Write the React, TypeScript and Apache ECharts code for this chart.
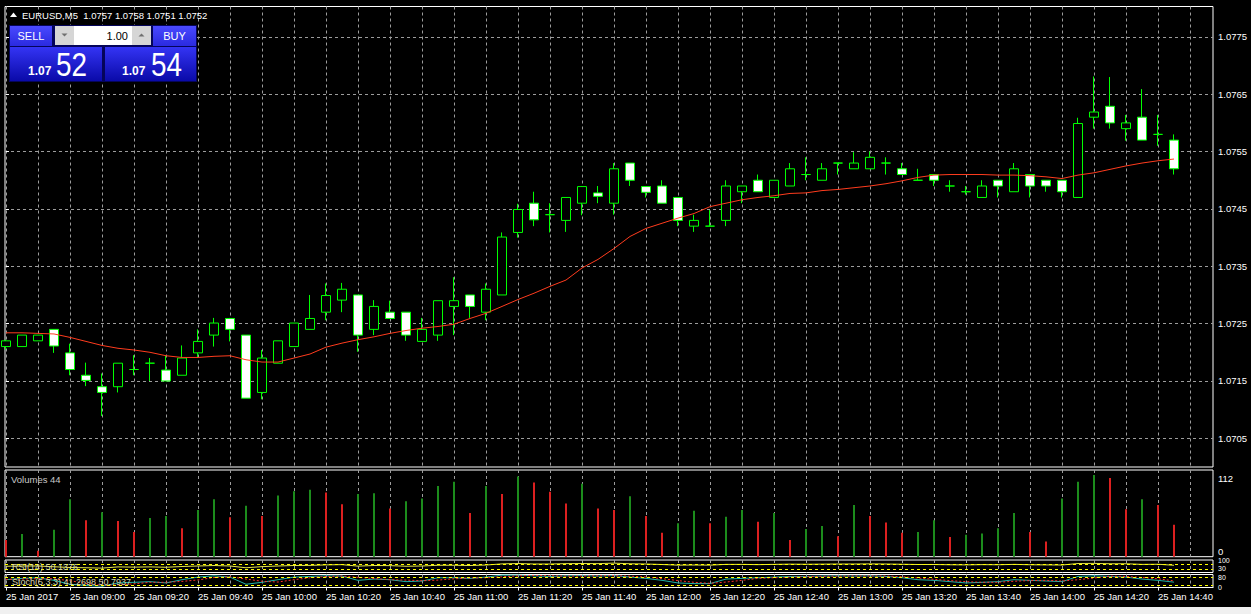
import React, { useEffect, useRef } from 'react';
import * as echarts from 'echarts';

// ---- data (EURUSD, M5, 25 Jan 2017, 08:40 .. 14:45) ----
const OPEN = [
  1.07210, 1.07210, 1.07220, 1.07240, 1.07199, 1.07160, 1.07140, 1.07140, 1.07170, 1.07181,
  1.07169, 1.07160, 1.07199, 1.07230, 1.07259, 1.07230, 1.07130, 1.07181, 1.07210, 1.07240,
  1.07270, 1.07291, 1.07300, 1.07240, 1.07270, 1.07270, 1.07219, 1.07230, 1.07280, 1.07300,
  1.07270, 1.07300, 1.07409, 1.07460, 1.07440, 1.07430, 1.07460, 1.07478, 1.07460, 1.07530,
  1.07489, 1.07490, 1.07470, 1.07420, 1.07420, 1.07430, 1.07480, 1.07500, 1.07470, 1.07490,
  1.07510, 1.07500, 1.07530, 1.07520, 1.07520, 1.07530, 1.07520, 1.07500, 1.07510, 1.07490,
  1.07480, 1.07470, 1.07500, 1.07480, 1.07510, 1.07500, 1.07500, 1.07470, 1.07610, 1.07629,
  1.07590, 1.07610, 1.07580, 1.07570,
];
const CLOSE = [
  1.07220, 1.07230, 1.07230, 1.07211, 1.07170, 1.07151, 1.07130, 1.07181, 1.07170, 1.07181,
  1.07150, 1.07190, 1.07219, 1.07251, 1.07240, 1.07120, 1.07190, 1.07220, 1.07251, 1.07259,
  1.07299, 1.07310, 1.07230, 1.07280, 1.07259, 1.07230, 1.07240, 1.07290, 1.07290, 1.07280,
  1.07310, 1.07401, 1.07449, 1.07431, 1.07440, 1.07470, 1.07489, 1.07472, 1.07520, 1.07500,
  1.07479, 1.07460, 1.07430, 1.07430, 1.07420, 1.07490, 1.07490, 1.07480, 1.07500, 1.07520,
  1.07510, 1.07520, 1.07530, 1.07530, 1.07540, 1.07530, 1.07510, 1.07500, 1.07500, 1.07490,
  1.07480, 1.07490, 1.07490, 1.07520, 1.07490, 1.07490, 1.07480, 1.07599, 1.07619, 1.07600,
  1.07600, 1.07570, 1.07580, 1.07520,
];
const LOW = [
  1.07205, 1.07210, 1.07220, 1.07199, 1.07160, 1.07141, 1.07089, 1.07130, 1.07160, 1.07150,
  1.07150, 1.07160, 1.07190, 1.07210, 1.07219, 1.07120, 1.07118, 1.07181, 1.07210, 1.07240,
  1.07256, 1.07270, 1.07201, 1.07230, 1.07259, 1.07220, 1.07219, 1.07220, 1.07230, 1.07260,
  1.07256, 1.07300, 1.07400, 1.07420, 1.07409, 1.07410, 1.07439, 1.07460, 1.07440, 1.07490,
  1.07470, 1.07460, 1.07420, 1.07410, 1.07420, 1.07420, 1.07460, 1.07480, 1.07470, 1.07490,
  1.07500, 1.07500, 1.07510, 1.07520, 1.07520, 1.07510, 1.07510, 1.07500, 1.07490, 1.07480,
  1.07475, 1.07470, 1.07470, 1.07480, 1.07470, 1.07480, 1.07470, 1.07470, 1.07590, 1.07590,
  1.07569, 1.07570, 1.07560, 1.07510,
];
const HIGH = [
  1.07222, 1.07230, 1.07230, 1.07240, 1.07215, 1.07182, 1.07163, 1.07181, 1.07195, 1.07190,
  1.07195, 1.07212, 1.07240, 1.07260, 1.07260, 1.07230, 1.07204, 1.07220, 1.07251, 1.07300,
  1.07320, 1.07321, 1.07300, 1.07291, 1.07290, 1.07270, 1.07260, 1.07290, 1.07331, 1.07300,
  1.07320, 1.07409, 1.07459, 1.07480, 1.07460, 1.07470, 1.07490, 1.07490, 1.07530, 1.07530,
  1.07490, 1.07500, 1.07470, 1.07440, 1.07448, 1.07500, 1.07490, 1.07510, 1.07500, 1.07530,
  1.07540, 1.07530, 1.07530, 1.07549, 1.07550, 1.07540, 1.07530, 1.07520, 1.07510, 1.07500,
  1.07490, 1.07500, 1.07500, 1.07530, 1.07510, 1.07500, 1.07500, 1.07609, 1.07681, 1.07680,
  1.07614, 1.07659, 1.07614, 1.07580,
];
const MA = [
  1.07234, 1.07234, 1.07233, 1.07232, 1.07226, 1.07219, 1.07212, 1.07207, 1.07204, 1.07200,
  1.07194, 1.07191, 1.07191, 1.07193, 1.07194, 1.07187, 1.07183, 1.07183, 1.07190, 1.07197,
  1.07209, 1.07216, 1.07222, 1.07227, 1.07233, 1.07238, 1.07242, 1.07245, 1.07249, 1.07259,
  1.07268, 1.07280, 1.07292, 1.07303, 1.07315, 1.07326, 1.07347, 1.07362, 1.07381, 1.07402,
  1.07416, 1.07425, 1.07434, 1.07442, 1.07454, 1.07460, 1.07466, 1.07470, 1.07473, 1.07477,
  1.07478, 1.07482, 1.07484, 1.07487, 1.07490, 1.07494, 1.07499, 1.07505, 1.07509, 1.07510,
  1.07510, 1.07510, 1.07509, 1.07509, 1.07508, 1.07506, 1.07503, 1.07509, 1.07513, 1.07519,
  1.07525, 1.07530, 1.07534, 1.07537,
];
const VOLUME = [
  23, 31, 8, 37, 79, 50, 61, 49, 34, 53,
  56, 39, 64, 79, 54, 70, 56, 84, 90, 92,
  88, 72, 86, 87, 66, 76, 80, 97, 103, 60,
  97, 86, 110, 102, 89, 73, 100, 66, 64, 83,
  56, 33, 46, 63, 46, 55, 64, 48, 60, 23,
  38, 42, 28, 71, 56, 47, 33, 34, 50, 27,
  30, 32, 39, 60, 34, 21, 80, 103, 112, 108,
  65, 79, 71, 44,
];
const RSI = [
  50, 52, 52, 46, 40, 38, 35, 45, 43, 45,
  42, 48, 52, 56, 52, 38, 47, 52, 56, 57,
  61, 63, 51, 56, 55, 50, 52, 58, 58, 56,
  60, 69, 72, 68, 68, 71, 72, 71, 75, 70,
  68, 64, 59, 60, 59, 65, 65, 63, 65, 67,
  66, 67, 68, 68, 69, 68, 66, 64, 64, 62,
  61, 63, 62, 65, 62, 61, 60, 72, 73, 70,
  70, 65, 66, 58,
];
const STOCH_MAIN = [
  60, 70, 75, 55, 25, 15, 10, 35, 40, 45,
  35, 60, 80, 90, 80, 25, 40, 60, 80, 85,
  90, 88, 55, 65, 60, 45, 50, 75, 75, 70,
  80, 95, 95, 90, 85, 90, 92, 88, 92, 80,
  70, 55, 35, 30, 30, 65, 70, 75, 80, 85,
  85, 88, 90, 88, 90, 85, 75, 60, 55, 45,
  35, 40, 45, 60, 55, 50, 45, 85, 90, 85,
  80, 65, 55, 41,
];
const STOCH_SIGNAL = [
  62, 65, 68, 67, 52, 32, 17, 20, 28, 40,
  40, 47, 58, 77, 83, 65, 48, 42, 60, 75,
  85, 88, 78, 69, 60, 57, 52, 57, 67, 73,
  75, 82, 90, 93, 90, 88, 89, 90, 91, 87,
  81, 68, 53, 40, 32, 42, 55, 70, 75, 80,
  83, 86, 88, 89, 89, 88, 83, 73, 63, 53,
  45, 40, 40, 48, 53, 55, 50, 60, 73, 87,
  85, 77, 67, 51,
];
const TIME_LABELS = [
  '25 Jan 2017', '25 Jan 09:00', '25 Jan 09:20', '25 Jan 09:40', '25 Jan 10:00',
  '25 Jan 10:20', '25 Jan 10:40', '25 Jan 11:00', '25 Jan 11:20', '25 Jan 11:40',
  '25 Jan 12:00', '25 Jan 12:20', '25 Jan 12:40', '25 Jan 13:00', '25 Jan 13:20',
  '25 Jan 13:40', '25 Jan 14:00', '25 Jan 14:20', '25 Jan 14:40',
];
const PRICE_TICKS = [1.0705, 1.0715, 1.0725, 1.0735, 1.0745, 1.0755, 1.0765, 1.0775];
const VOLUME_TICKS = [0, 112];
const RSI_TICKS = [100, 30];
const STOCH_TICKS = [80, 0];
const RSI_LEVELS = [30, 70];
const STOCH_LEVELS = [20, 80];
const SYMBOL = 'EURUSD,M5';
const BID = '1.0752';
const ASK = '1.0754';
const LOT = '1.00';
const RSI_TEXT = 'RSI(14) 50.1376';
const STOCH_TEXT = 'Stoch(5,3,3) 41.2698 50.7937';

const FONT = '"Liberation Sans", Arial, sans-serif';
const GRID_COLOR = '#9c9c9c';
const X_MIN = -0.0625;
const X_MAX = 75.4375;
const EVEN_X = Array.from({ length: 38 }, (_, i) => i * 2);
const LABEL_X = TIME_LABELS.map((_, i) => i * 4);

export default function App() {
  const ref = useRef<HTMLDivElement>(null);
  useEffect(() => {
    const chart = echarts.init(ref.current!, null, { renderer: 'svg' });
    const last = OPEN.length - 1;
    const dashed = { color: GRID_COLOR, type: [3, 3] as any, width: 1 };
    const panes = [
      { top: 6.5, height: 460.5 },
      { top: 470, height: 86.7 },
      { top: 560, height: 12.5 },
      { top: 574.5, height: 13 },
    ];
    const splitX = panes.map((_, i) => ({
      type: 'value', gridIndex: i, min: X_MIN, max: X_MAX,
      axisLine: { show: false },
      axisTick: { show: false, customValues: EVEN_X },
      axisLabel: { show: false },
      splitLine: { show: true, lineStyle: dashed },
    }));
    const labelX = {
      type: 'value', gridIndex: 3, position: 'bottom', min: X_MIN, max: X_MAX,
      axisLine: { show: true, lineStyle: { color: '#ffffff', width: 1 } },
      axisTick: { show: true, customValues: LABEL_X, length: 3, lineStyle: { color: '#ffffff' } },
      axisLabel: {
        show: true, customValues: LABEL_X,
        formatter: (v: number) => TIME_LABELS[Math.round(v / 4)] ?? '',
        align: 'left', color: '#ffffff', fontSize: 9.5, fontFamily: FONT, margin: 4,
      },
      splitLine: { show: false },
    };
    const yLabel = { color: '#ffffff', fontSize: 9.5, fontFamily: FONT, margin: 5 };
    const option: any = {
      animation: false,
      backgroundColor: '#000000',
      grid: panes.map((p) => ({
        left: 5, width: 1208, top: p.top, height: p.height,
        show: true, borderColor: '#ffffff', borderWidth: 1, backgroundColor: 'transparent',
      })),
      xAxis: [...splitX, labelX],
      yAxis: [
        {
          type: 'value', gridIndex: 0, position: 'right', min: 1.07, max: 1.07803, scale: true,
          axisLine: { show: false },
          axisTick: { show: true, customValues: PRICE_TICKS, length: 3, lineStyle: { color: '#ffffff' } },
          axisLabel: { ...yLabel, customValues: PRICE_TICKS, formatter: (v: number) => v.toFixed(4) },
          splitLine: { show: true, lineStyle: dashed },
        },
        {
          type: 'value', gridIndex: 1, position: 'right', min: 0, max: 119,
          axisLine: { show: false },
          axisTick: { show: false, customValues: VOLUME_TICKS },
          axisLabel: {
            ...yLabel, customValues: VOLUME_TICKS,
            formatter: (v: number) => (v === 0 ? `{lo|${v}}` : `{hi|${v}}`),
            rich: {
              lo: { color: '#ffffff', fontSize: 9.5, fontFamily: FONT, padding: [0, 0, 10, 0] },
              hi: { color: '#ffffff', fontSize: 9.5, fontFamily: FONT, padding: [6, 0, 0, 0] },
            },
          },
          splitLine: { show: false },
        },
        {
          type: 'value', gridIndex: 2, position: 'right', min: 0, max: 100,
          axisLine: { show: false },
          axisTick: { show: false, customValues: RSI_TICKS },
          axisLabel: { ...yLabel, fontSize: 7, customValues: RSI_TICKS },
          splitLine: { show: false },
        },
        {
          type: 'value', gridIndex: 3, position: 'right', min: 0, max: 100,
          axisLine: { show: false },
          axisTick: { show: false, customValues: STOCH_TICKS },
          axisLabel: { ...yLabel, fontSize: 7, customValues: STOCH_TICKS },
          splitLine: { show: false },
        },
      ],
      series: [
        {
          type: 'candlestick', xAxisIndex: 0, yAxisIndex: 0, barWidth: 9,
          data: OPEN.map((o, i) => [i, o, CLOSE[i], LOW[i], HIGH[i]]),
          itemStyle: {
            color: '#000000', color0: '#ffffff',
            borderColor: '#00ff00', borderColor0: '#00ff00', borderColorDoji: '#00ff00', borderWidth: 1,
          },
          markLine: {
            silent: true, symbol: ['none', 'none'], animation: false,
            lineStyle: { color: '#c0c0c0', type: 'solid', width: 1 },
            label: {
              show: true, position: 'end', formatter: CLOSE[last].toFixed(4),
              color: '#000000', backgroundColor: '#ffffff', padding: [2, 4, 1, 3],
              fontSize: 9.5, fontFamily: FONT, distance: 1,
            },
            data: [{ yAxis: CLOSE[last] }],
          },
        },
        {
          type: 'line', xAxisIndex: 0, yAxisIndex: 0, showSymbol: false, symbol: 'none',
          data: MA.map((v, i) => [i, v]),
          lineStyle: { color: '#ff3c1e', width: 1 },
        },
        {
          type: 'bar', xAxisIndex: 1, yAxisIndex: 1, barWidth: 2,
          data: VOLUME.map((v, i) => ({
            value: [i, v],
            itemStyle: { color: i > 0 && v > VOLUME[i - 1] ? '#1c8c1c' : '#dc2020' },
          })),
        },
        {
          type: 'line', xAxisIndex: 2, yAxisIndex: 2, showSymbol: false, symbol: 'none',
          data: RSI.map((v, i) => [i, v]),
          lineStyle: { color: '#e6e64a', width: 1 },
          markLine: {
            silent: true, symbol: ['none', 'none'], label: { show: false },
            lineStyle: { color: '#ffff00', type: [3, 3], width: 1 },
            data: RSI_LEVELS.map((l) => ({ yAxis: l })),
          },
        },
        {
          type: 'line', xAxisIndex: 3, yAxisIndex: 3, showSymbol: false, symbol: 'none',
          data: STOCH_MAIN.map((v, i) => [i, v]),
          lineStyle: { color: '#20b2aa', width: 1 },
          markLine: {
            silent: true, symbol: ['none', 'none'], label: { show: false },
            lineStyle: { color: '#ffff00', type: [3, 3], width: 1 },
            data: STOCH_LEVELS.map((l) => ({ yAxis: l })),
          },
        },
        {
          type: 'line', xAxisIndex: 3, yAxisIndex: 3, showSymbol: false, symbol: 'none',
          data: STOCH_SIGNAL.map((v, i) => [i, v]),
          lineStyle: { color: '#ff3030', width: 1, type: [2, 2] },
        },
      ],
      graphic: {
        elements: [
          // window chrome (bottom strip)
          { type: 'rect', z: 100, shape: { x: 0, y: 607, width: 1251, height: 7 }, style: { fill: '#f0f0f0' } },
          // title
          { type: 'polygon', z: 100, shape: { points: [[10, 17], [13.5, 12.5], [17, 17]] }, style: { fill: '#ffffff' } },
          {
            type: 'text', z: 100,
            style: {
              x: 22, y: 15, text: `${SYMBOL}  ${OPEN[last].toFixed(4)} ${HIGH[last].toFixed(4)} ${LOW[last].toFixed(4)} ${CLOSE[last].toFixed(4)}`,
              fill: '#ffffff', font: `9.5px ${FONT}`, verticalAlign: 'middle', align: 'left',
            },
          },
          // one-click trading panel
          { type: 'rect', z: 100, shape: { x: 9, y: 25, width: 188, height: 57 }, style: { fill: '#05055a' } },
          {
            type: 'rect', z: 101, shape: { x: 10, y: 26, width: 42, height: 20 },
            style: { fill: new echarts.graphic.LinearGradient(0, 0, 0, 1, [{ offset: 0, color: '#4a4aff' }, { offset: 1, color: '#2a2ae0' }]) },
          },
          { type: 'text', z: 102, style: { x: 31, y: 36, text: 'SELL', fill: '#ffffff', font: `11px ${FONT}`, align: 'center', verticalAlign: 'middle' } },
          { type: 'rect', z: 101, shape: { x: 55, y: 26, width: 19, height: 19 }, style: { fill: '#d6d6d6' } },
          { type: 'polygon', z: 102, shape: { points: [[61.5, 33.5], [67.5, 33.5], [64.5, 36.5]] }, style: { fill: '#707070' } },
          { type: 'rect', z: 101, shape: { x: 74, y: 26, width: 58, height: 19 }, style: { fill: '#ffffff' } },
          { type: 'text', z: 102, style: { x: 128, y: 35.5, text: LOT, fill: '#000000', font: `11px ${FONT}`, align: 'right', verticalAlign: 'middle' } },
          { type: 'rect', z: 101, shape: { x: 132, y: 26, width: 19, height: 19 }, style: { fill: '#d6d6d6' } },
          { type: 'polygon', z: 102, shape: { points: [[138.5, 36.5], [144.5, 36.5], [141.5, 33.5]] }, style: { fill: '#707070' } },
          {
            type: 'rect', z: 101, shape: { x: 153, y: 26, width: 43, height: 20 },
            style: { fill: new echarts.graphic.LinearGradient(0, 0, 0, 1, [{ offset: 0, color: '#4a4aff' }, { offset: 1, color: '#2a2ae0' }]) },
          },
          { type: 'text', z: 102, style: { x: 174.5, y: 36, text: 'BUY', fill: '#ffffff', font: `11px ${FONT}`, align: 'center', verticalAlign: 'middle' } },
          {
            type: 'rect', z: 101, shape: { x: 10, y: 47, width: 92, height: 34 },
            style: { fill: new echarts.graphic.LinearGradient(0, 0, 0, 1, [{ offset: 0, color: '#3434f4' }, { offset: 1, color: '#0a0aa8' }]) },
          },
          {
            type: 'rect', z: 101, shape: { x: 105, y: 47, width: 91, height: 34 },
            style: { fill: new echarts.graphic.LinearGradient(0, 0, 0, 1, [{ offset: 0, color: '#3434f4' }, { offset: 1, color: '#0a0aa8' }]) },
          },
          { type: 'text', z: 102, style: { x: 28, y: 71, text: BID.slice(0, 4), fill: '#ffffff', font: `bold 12px ${FONT}`, align: 'left', verticalAlign: 'middle' } },
          { type: 'text', z: 102, x: 56, y: 65, scaleX: 0.82, style: { x: 0, y: 0, text: BID.slice(4), fill: '#ffffff', font: `34px ${FONT}`, align: 'left', verticalAlign: 'middle' } },
          { type: 'text', z: 102, style: { x: 122, y: 71, text: ASK.slice(0, 4), fill: '#ffffff', font: `bold 12px ${FONT}`, align: 'left', verticalAlign: 'middle' } },
          { type: 'text', z: 102, x: 151, y: 65, scaleX: 0.82, style: { x: 0, y: 0, text: ASK.slice(4), fill: '#ffffff', font: `34px ${FONT}`, align: 'left', verticalAlign: 'middle' } },
          // sub-window captions
          { type: 'text', z: 100, style: { x: 11, y: 479, text: `Volumes ${VOLUME[last]}`, fill: '#c8c8c8', font: `9.5px ${FONT}`, verticalAlign: 'middle' } },
          { type: 'text', z: 100, style: { x: 12, y: 567, text: RSI_TEXT, fill: '#d8d8b0', font: `9px ${FONT}`, verticalAlign: 'middle' } },
          { type: 'text', z: 100, style: { x: 12, y: 581.5, text: STOCH_TEXT, fill: '#d8d8b0', font: `9px ${FONT}`, verticalAlign: 'middle' } },
        ],
      },
    };
    chart.setOption(option);
    return () => chart.dispose();
  }, []);
  return (
    <div
      ref={ref}
      style={{ position: 'fixed', left: 0, top: 0, width: 1251, height: 614, background: '#000000' }}
    />
  );
}
